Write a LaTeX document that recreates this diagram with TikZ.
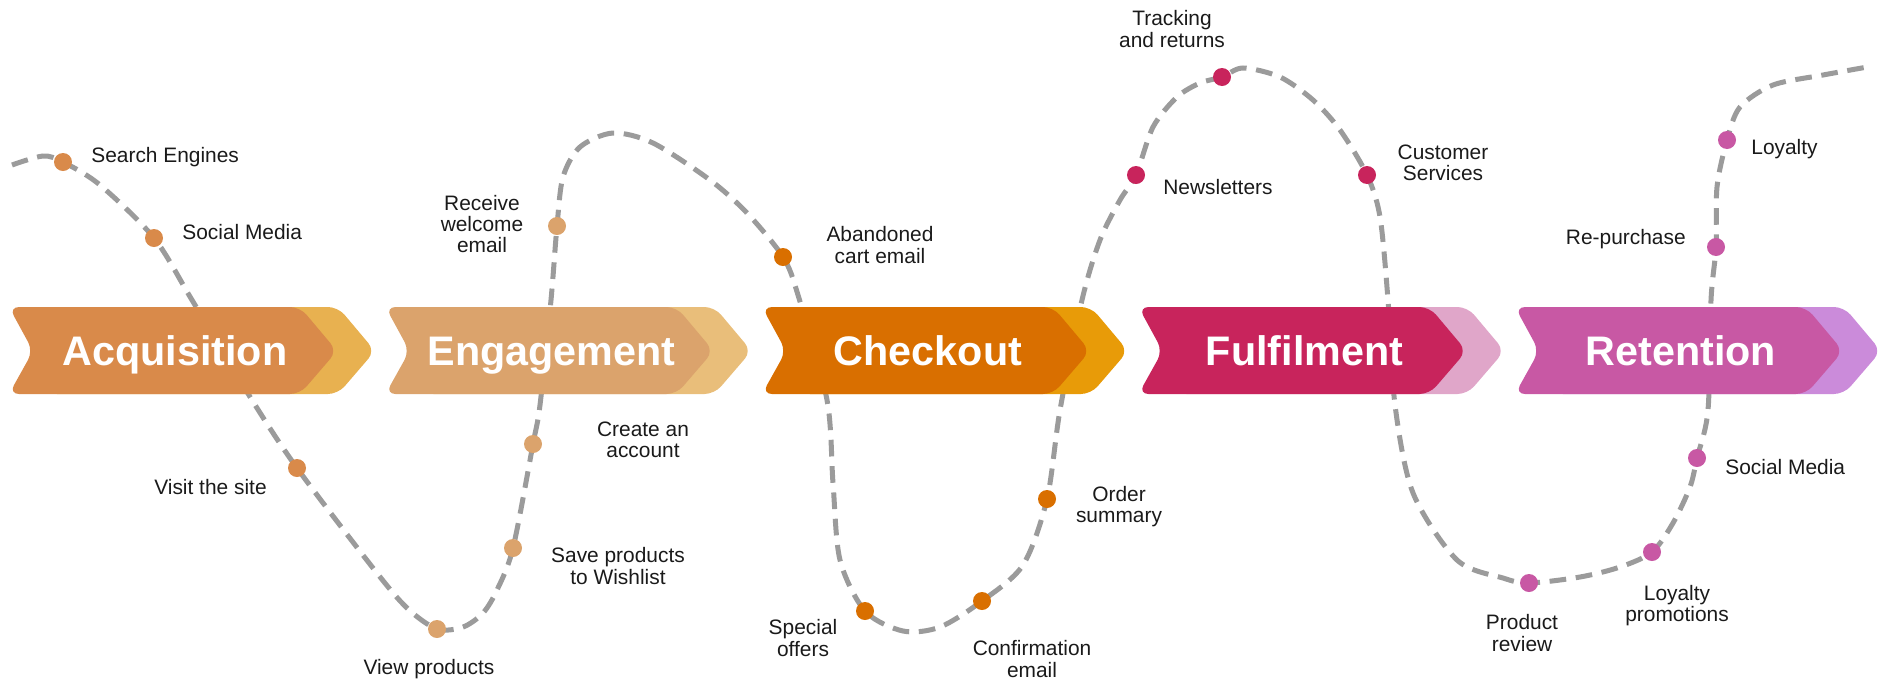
\documentclass[tikz,border=0pt]{standalone}
\usepackage{fontspec}
\setmainfont{Liberation Sans}
\usetikzlibrary{positioning}

\definecolor{acqMain}{HTML}{D98A4A}
\definecolor{acqBack}{HTML}{E8B150}
\definecolor{engMain}{HTML}{DBA36C}
\definecolor{engBack}{HTML}{E9BE7A}
\definecolor{chkMain}{HTML}{D96F00}
\definecolor{chkBack}{HTML}{E89B08}
\definecolor{fulMain}{HTML}{C8245C}
\definecolor{fulBack}{HTML}{E0A6C9}
\definecolor{retMain}{HTML}{C858A4}
\definecolor{retBack}{HTML}{CB8BDA}
\definecolor{pathGray}{HTML}{9B9B9B}
\definecolor{ink}{HTML}{1A1A1A}

\tikzset{
  journey/.style={pathGray, line width=2.85pt, dash pattern=on 9.5pt off 5.5pt},
  dot/.style={circle, fill=#1, inner sep=0pt, minimum size=0.36cm},
  tag/.style={text=ink, font=\fontsize{11.9}{12}\selectfont, align=center, inner sep=0pt},
  stagetext/.style={text=white, font=\fontsize{23.5}{24}\selectfont\bfseries, anchor=base},
}

\begin{document}
\begin{tikzpicture}[x=0.02cm, y=-0.02cm]
  \useasboundingbox (0,0) rectangle (1885,684);

  % the customer path, behind the stages
  \draw[journey] plot[smooth, tension=0.5] coordinates {
    (12,165) (43,156) (63,162) (100,185) (154,238) (192,300) (252,400)
    (297,468) (373,568) (407,608) (437,629) (463,627) (483,613) (497,590)
    (513,548) (533,444) (540,405) (551,300) (557,226) (563,177) (580,147)
    (613,133) (653,143) (710,180) (747,213) (783,257) (798,295) (827,400)
    (833,483) (840,560) (865,611) (903,631) (940,627) (982,601) (1023,565)
    (1047,499) (1060,410) (1082,300) (1100,240) (1120,200) (1136,175)
    (1153,127) (1177,97) (1200,83) (1222,77) (1243,68) (1280,77) (1313,100)
    (1340,130) (1367,175) (1380,217) (1388,300) (1395,405) (1413,493)
    (1457,560) (1503,578) (1529,583) (1580,577) (1620,567) (1652,552)
    (1673,523) (1690,487) (1697,458) (1708,410) (1711,300) (1716,247)
    (1717,187) (1727,140) (1740,107) (1773,85) (1823,75) (1873,66)};

  % stage arrows
  \foreach \stage/\main/\back [count=\i from 0] in {Acquisition/acqMain/acqBack,
      Engagement/engMain/engBack, Checkout/chkMain/chkBack,
      Fulfilment/fulMain/fulBack, Retention/retMain/retBack}{
    \pgfmathsetmacro{\L}{9+376.5*\i}
    \fill[\back, rounded corners=0.2cm] ({\L+38},307) -- ({\L+329},307) -- ({\L+366},351)
      -- ({\L+329},394) -- ({\L+38},394) -- ({\L+62},351) -- cycle;
    \fill[\main, rounded corners=0.2cm] (\L,307) -- ({\L+291},307) -- ({\L+328},351)
      -- ({\L+291},394) -- (\L,394) -- ({\L+24},351) -- cycle;
    \node[stagetext] (stage\i) at ({\L+166},365) {\stage};
  }

  % acquisition
  \node[dot=acqMain] (search) at (63,162) {};
  \node[dot=acqMain] (social) at (154,238) {};
  \node[dot=acqMain] (visit) at (297,468) {};
  \node[tag, anchor=west] (txt-search) at (91,157) {Search Engines};
  \node[tag, anchor=west] (txt-social) at (182,232) {Social Media};
  \node[tag, anchor=east] (txt-visit) at (267,487) {Visit the site};

  % engagement
  \node[dot=engMain] (view) at (437,629) {};
  \node[dot=engMain] (wish) at (513,548) {};
  \node[dot=engMain] (account) at (533,444) {};
  \node[dot=engMain] (welcome) at (557,226) {};
  \node[tag] (txt-view) at (429,669) {View products};
  \node[tag] (txt-wish) at (618,566) {Save products\\to Wishlist};
  \node[tag] (txt-account) at (643,440) {Create an\\account};
  \node[tag] (txt-welcome) at (482,224) {Receive\\welcome\\email};

  % checkout
  \node[dot=chkMain] (cart) at (783,257) {};
  \node[dot=chkMain] (offers) at (865,611) {};
  \node[dot=chkMain] (confirm) at (982,601) {};
  \node[dot=chkMain] (order) at (1047,499) {};
  \node[tag] (txt-cart) at (880,245) {Abandoned\\cart email};
  \node[tag] (txt-offers) at (803,638) {Special\\offers};
  \node[tag] (txt-confirm) at (1032,659) {Confirmation\\email};
  \node[tag] (txt-order) at (1119,507) {Order\\summary};

  % fulfilment
  \node[dot=fulMain] (news) at (1136,175) {};
  \node[dot=fulMain] (track) at (1222,77) {};
  \node[dot=fulMain] (service) at (1367,175) {};
  \node[tag, anchor=west] (txt-news) at (1163,187) {Newsletters};
  \node[tag] (txt-track) at (1172,29) {Tracking\\and returns};
  \node[tag] (txt-service) at (1443,163) {Customer\\Services};

  % retention
  \node[dot=retMain] (review) at (1529,583) {};
  \node[dot=retMain] (promo) at (1652,552) {};
  \node[dot=retMain] (social2) at (1697,458) {};
  \node[dot=retMain] (repurchase) at (1716,247) {};
  \node[dot=retMain] (loyalty) at (1727,140) {};
  \node[tag] (txt-review) at (1522,633) {Product\\review};
  \node[tag] (txt-promo) at (1677,606) {Loyalty\\promotions};
  \node[tag, anchor=west] (txt-social2) at (1725,467) {Social Media};
  \node[tag, anchor=east] (txt-repurchase) at (1686,239) {Re-purchase};
  \node[tag, anchor=west] (txt-loyalty) at (1751,149) {Loyalty};
\end{tikzpicture}
\end{document}
